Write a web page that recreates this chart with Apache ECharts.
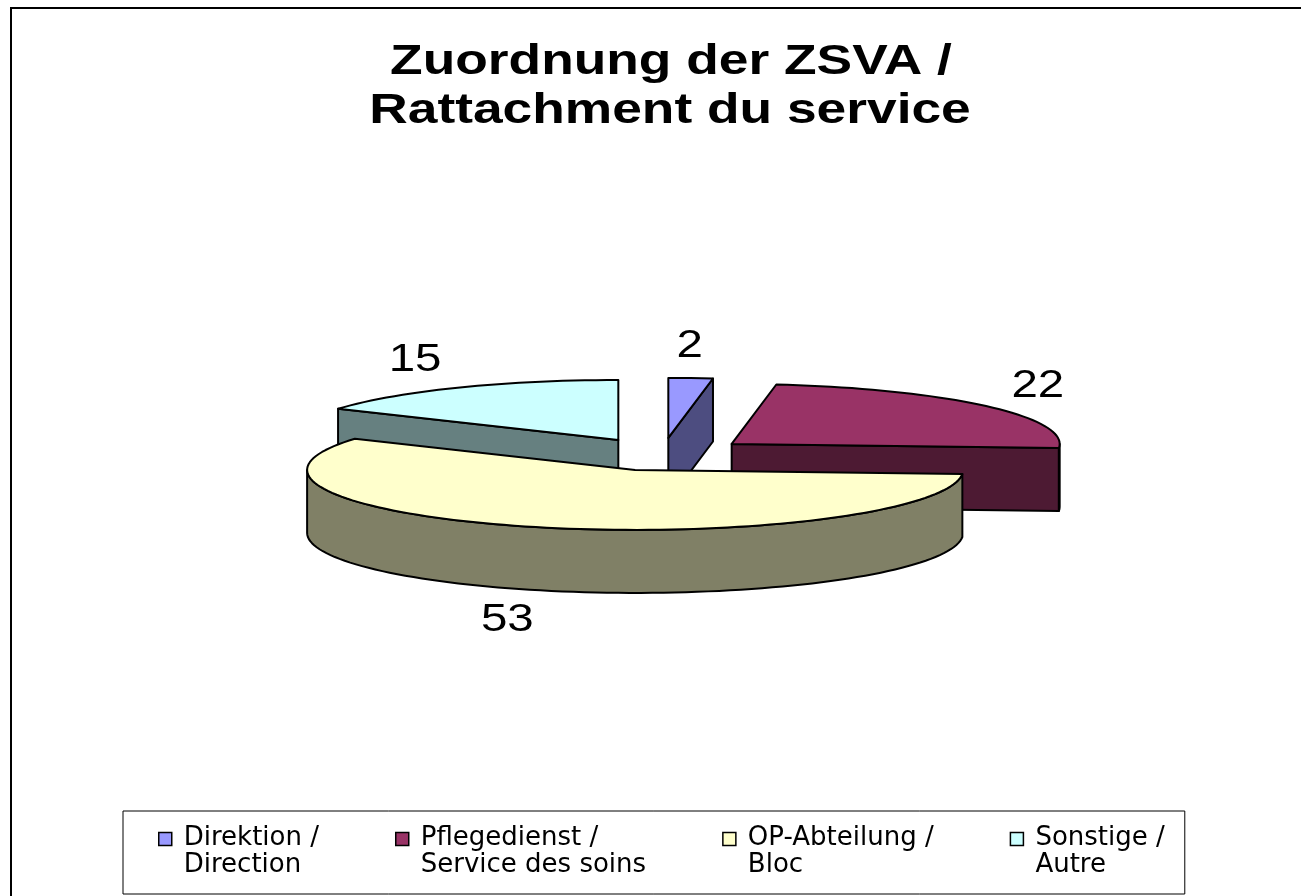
<!DOCTYPE html>
<html>
<head>
<meta charset="utf-8">
<title>Zuordnung der ZSVA</title>
<script src="https://cdn.jsdelivr.net/npm/echarts@6/dist/echarts.min.js"></script>
<style>
html, body { margin: 0; padding: 0; background: #fff; }
#chart { width: 1301px; height: 896px; }
</style>
</head>
<body>
<div id="chart"></div>
<script>
// Daten
var categories = ['Direktion /\nDirection', 'Pflegedienst /\nService des soins', 'OP-Abteilung /\nBloc', 'Sonstige /\nAutre'];
var values = [2, 22, 53, 15];
var topColors = ['#9999FF', '#993366', '#FFFFCC', '#CCFFFF'];
var sideColors = ['#4D4D80', '#4D1A33', '#808066', '#668080'];

// 3D-Torte (flach, gestreckt wie in Excel)
var CENTER = [0.509, 0.507];
var RX = 328, RY = 60, DEPTH = 63, EXPLODE = 0.273;
var RAD = Math.PI / 180;

var total = values.reduce(function (s, v) { return s + v; }, 0);

// Winkel im Uhrzeigersinn ab 12 Uhr
function sliceAngles(i) {
  var start = 0;
  for (var k = 0; k < i; k++) start += values[k] / total * 360;
  return [start, start + values[i] / total * 360];
}

// Zeichenreihenfolge: hintere Stuecke zuerst
var ranks = values.map(function (v, i) {
  var a = sliceAngles(i);
  return { i: i, d: -Math.cos((a[0] + a[1]) / 2 * RAD) };
}).sort(function (p, q) { return p.d - q.d; })
  .reduce(function (acc, p, r) { acc[p.i] = r; return acc; }, {});

function renderSlice(i) {
  return function (params, api) {
    var w = api.getWidth(), h = api.getHeight();
    var a = sliceAngles(i), a0 = a[0], a1 = a[1], mid = (a0 + a1) / 2;
    var bx = w * CENTER[0], by = h * CENTER[1];
    var cx = bx + EXPLODE * RX * Math.sin(mid * RAD);
    var cy = by - EXPLODE * RY * Math.cos(mid * RAD);
    var pt = function (deg, dy) {
      return [cx + RX * Math.sin(deg * RAD), cy - RY * Math.cos(deg * RAD) + (dy || 0)];
    };
    var base = ranks[i] * 10;
    var line = { stroke: '#000', lineWidth: 2, lineJoin: 'round' };
    var kids = [];

    var cutFace = function (deg) {
      var p = pt(deg);
      return {
        type: 'polygon', z2: base + 1,
        shape: { points: [[cx, cy], p, [p[0], p[1] + DEPTH], [cx, cy + DEPTH]] },
        style: Object.assign({ fill: sideColors[i] }, line)
      };
    };
    if (Math.sin(a0 * RAD) < -1e-6) kids.push(cutFace(a0));
    if (Math.sin(a1 * RAD) > 1e-6) kids.push(cutFace(a1));

    // Aussenwand (nur vordere Haelfte)
    var w0 = Math.max(a0, 90), w1 = Math.min(a1, 270);
    if (w1 > w0) {
      var upper = [], lower = [];
      var n = Math.max(2, Math.ceil((w1 - w0) / 2));
      for (var k = 0; k <= n; k++) {
        var d = w0 + (w1 - w0) * k / n;
        upper.push(pt(d));
        lower.unshift(pt(d, DEPTH));
      }
      kids.push({
        type: 'polygon', z2: base + 2,
        shape: { points: upper.concat(lower) },
        style: Object.assign({ fill: sideColors[i] }, line)
      });
    }

    // Deckflaeche
    var topPts = [[cx, cy]];
    var m = Math.max(2, Math.ceil((a1 - a0) / 2));
    for (var j = 0; j <= m; j++) topPts.push(pt(a0 + (a1 - a0) * j / m));
    kids.push({
      type: 'polygon', z2: base + 3,
      shape: { points: topPts },
      style: Object.assign({ fill: topColors[i] }, line)
    });

    // Wertbeschriftung
    var s = Math.sin(mid * RAD), c = Math.cos(mid * RAD);
    kids.push({
      type: 'text', z2: 100,
      x: bx - 6 + RX * 1.5 * s,
      y: by - RY * 1.8 * c + (c < 0 ? DEPTH : 0),
      scaleX: 1.25,
      style: {
        text: String(api.value(0)),
        font: '38px "Liberation Sans", Arial, sans-serif',
        fill: '#000', align: 'center', verticalAlign: 'middle'
      }
    });

    return { type: 'group', children: kids };
  };
}

var chart = echarts.init(document.getElementById('chart'));

chart.setOption({
  backgroundColor: '#fff',
  animation: false,
  graphic: [
    {
      type: 'rect', z: -1,
      shape: { x: 11, y: 8, width: 1300, height: 900 },
      style: { fill: 'none', stroke: '#000', lineWidth: 2 }
    },
    {
      type: 'text', x: 671, y: 62, scaleX: 1.24,
      style: {
        text: 'Zuordnung der ZSVA /',
        font: 'bold 43px "Liberation Sans", Arial, sans-serif',
        fill: '#000', align: 'center', verticalAlign: 'middle'
      }
    },
    {
      type: 'text', x: 670, y: 111, scaleX: 1.24,
      style: {
        text: 'Rattachment du service',
        font: 'bold 43px "Liberation Sans", Arial, sans-serif',
        fill: '#000', align: 'center', verticalAlign: 'middle'
      }
    }
  ],
  legend: {
    left: 123,
    top: 811,
    orient: 'horizontal',
    selectedMode: false,
    itemGap: 76,
    itemWidth: 13,
    itemHeight: 39,
    icon: 'path://M0,0L13,0L13,13L0,13Z M13,39',
    padding: [14, 20, 15, 35],
    borderColor: '#000',
    borderWidth: 1,
    itemStyle: { borderColor: '#000', borderWidth: 1.5 },
    textStyle: {
      fontFamily: 'DejaVu Sans',
      fontSize: 26,
      lineHeight: 27,
      color: '#000',
      padding: [0, 0, 0, 7]
    },
    data: categories
  },
  series: categories.map(function (name, i) {
    return {
      type: 'custom',
      name: name,
      coordinateSystem: 'none',
      itemStyle: { color: topColors[i] },
      renderItem: renderSlice(i),
      data: [[values[i]]]
    };
  })
});
</script>
</body>
</html>
